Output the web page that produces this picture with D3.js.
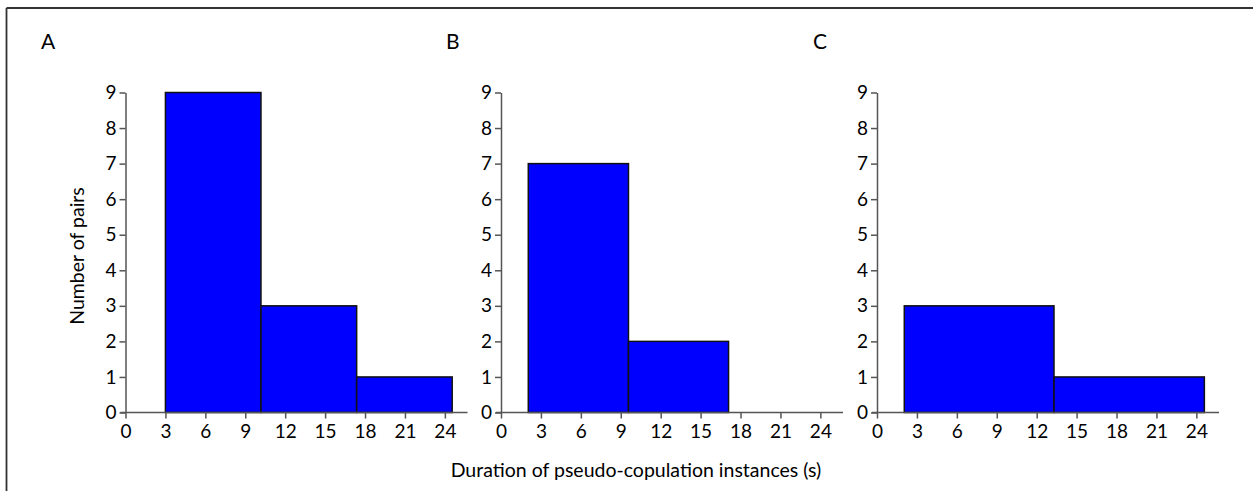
<!DOCTYPE html>
<html>
<head>
<meta charset="utf-8">
<script src="https://cdn.jsdelivr.net/npm/d3@7"></script>
<style>
  html, body { margin: 0; padding: 0; background: #fff; }
  svg { display: block; }
  text { font-family: Lato, "Open Sans", sans-serif; fill: #000; }
</style>
</head>
<body>
<svg id="chart" width="1253" height="491"></svg>
<script>
// Histogram bin edges (seconds) and pair counts for each panel
const panelLabels = ["A", "B", "C"];
const edgesA = [3, 10.18, 17.37, 24.55];
const countsA = [9, 3, 1];
const edgesB = [2.05, 9.58, 17.1];
const countsB = [7, 2];
const edgesC = [2.05, 13.3, 24.6];
const countsC = [3, 1];
const xTicks = [0, 3, 6, 9, 12, 15, 18, 21, 24];
const yTicks = [0, 1, 2, 3, 4, 5, 6, 7, 8, 9];
const xTitle = "Duration of pseudo-copulation instances (s)";
const yTitle = "Number of pairs";

const panels = [
  { label: panelLabels[0], edges: edgesA, counts: countsA },
  { label: panelLabels[1], edges: edgesB, counts: countsB },
  { label: panelLabels[2], edges: edgesC, counts: countsC }
];

const svg = d3.select("#chart");

// frame lines (top and left)
svg.append("line").attr("x1", 6.5).attr("x2", 1253).attr("y1", 8).attr("y2", 8)
  .attr("stroke", "#333").attr("stroke-width", 1.8);
svg.append("line").attr("x1", 6.5).attr("x2", 6.5).attr("y1", 8).attr("y2", 491)
  .attr("stroke", "#333").attr("stroke-width", 1.8);

const originsX = [125.5, 501, 877];
const letterX = [41, 446, 813];
const plotTop = 92.5, plotBottom = 412.5;
const axisColor = "#555";
const tickFont = "19px";

const y = d3.scaleLinear().domain([0, 9]).range([plotBottom, plotTop]);

panels.forEach((p, i) => {
  const x0 = originsX[i];
  const x = d3.scaleLinear().domain([0, 25.7]).range([x0, x0 + 342]);
  const g = svg.append("g");

  // bars
  const bins = p.counts.map((c, k) => ({ x0: p.edges[k], x1: p.edges[k + 1], n: c }));
  g.selectAll("rect.bar").data(bins).enter().append("rect")
    .attr("class", "bar")
    .attr("x", d => x(d.x0))
    .attr("y", d => y(d.n))
    .attr("width", d => x(d.x1) - x(d.x0))
    .attr("height", d => y(0) - y(d.n))
    .attr("fill", "#0000ff")
    .attr("stroke", "#111")
    .attr("stroke-width", 1.5);

  // y axis
  const ya = g.append("g").attr("transform", `translate(${x0},0)`)
    .call(d3.axisLeft(y).tickValues(yTicks).tickFormat(d3.format("d"))
      .tickSize(6).tickSizeOuter(0).tickPadding(3));
  ya.select(".domain").attr("stroke", axisColor).attr("stroke-width", 1.5);
  ya.selectAll(".tick line").attr("stroke", axisColor).attr("stroke-width", 1.5);
  ya.selectAll(".tick text").style("font-size", tickFont).attr("fill", "#000");

  // x axis
  const xa = g.append("g").attr("transform", `translate(0,${plotBottom})`)
    .call(d3.axisBottom(x).tickValues(xTicks).tickFormat(d3.format("d"))
      .tickSize(6).tickSizeOuter(0).tickPadding(6));
  xa.select(".domain").remove();
  xa.append("line").attr("x1", x(0) - 5).attr("x2", x(25.7)).attr("y1", 0).attr("y2", 0)
    .attr("stroke", axisColor).attr("stroke-width", 1.5);
  xa.selectAll(".tick line").attr("stroke", axisColor).attr("stroke-width", 1.5);
  xa.selectAll(".tick text").style("font-size", tickFont).attr("fill", "#000");

  // panel letter
  svg.append("text").attr("x", letterX[i]).attr("y", 48.5)
    .style("font-size", "21px").text(p.label);
});

// axis titles
svg.append("text")
  .attr("transform", "translate(84,256) rotate(-90)")
  .attr("text-anchor", "middle")
  .style("font-size", "19.5px")
  .text(yTitle);

svg.append("text")
  .attr("x", 636).attr("y", 476.5)
  .attr("text-anchor", "middle")
  .style("font-size", "19.5px")
  .text(xTitle);
</script>
</body>
</html>
